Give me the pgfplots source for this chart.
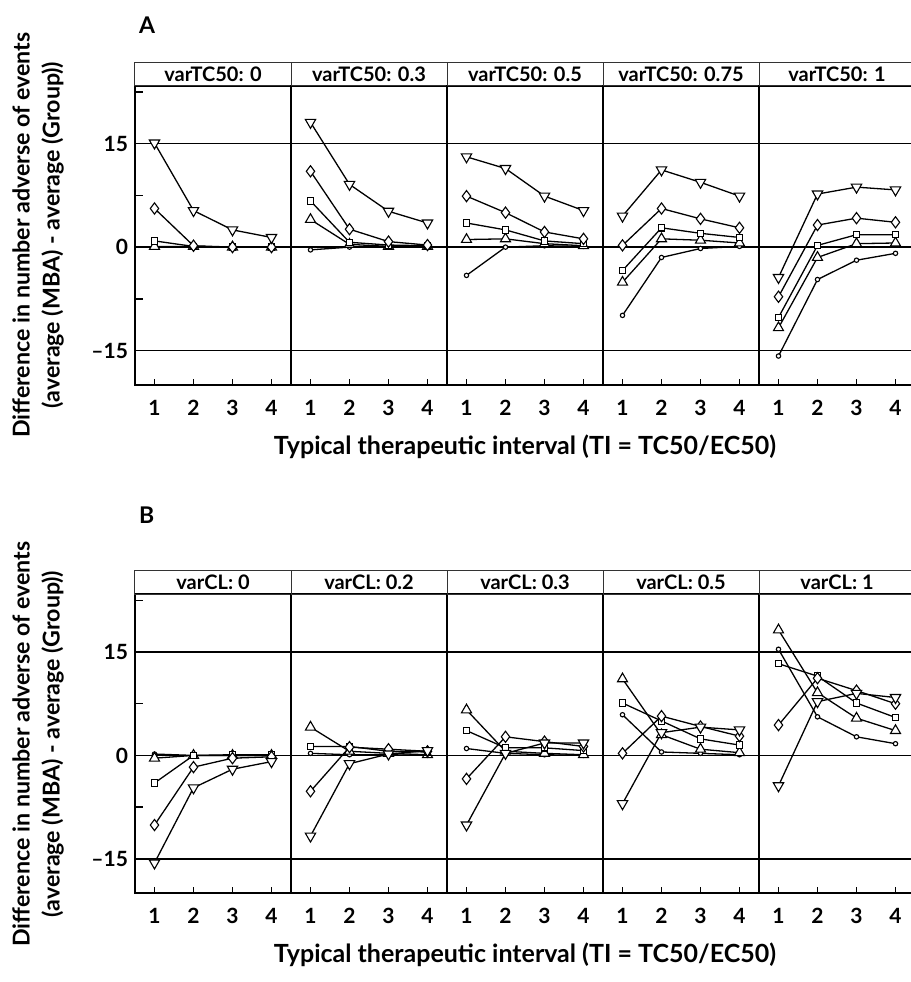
\documentclass[border=0pt]{standalone}
\usepackage{fontspec}
\setmainfont{Lato}
\usepackage{pgfplots}
\pgfplotsset{compat=1.18}
\usepackage{pgfplotstable}

% columns: c = circle, t = triangle, s = square, d = diamond, v = inverted triangle
\pgfplotstableread{
x c t s d v
1 0.0 0.1 0.9 5.6 15.1
2 0.0 0.1 0.1 0.2 5.3
3 0.0 0.0 0.0 0.0 2.5
4 0.0 0.0 0.0 0.0 1.4
}\tAa
\pgfplotstableread{
x c t s d v
1 -0.4 4.0 6.7 11.0 18.1
2 0.0 0.4 0.7 2.6 9.1
3 0.1 0.1 0.3 0.8 5.2
4 0.1 0.1 0.2 0.3 3.5
}\tAb
\pgfplotstableread{
x c t s d v
1 -4.1 1.1 3.5 7.4 13.1
2 0.0 1.2 2.5 5.0 11.4
3 0.2 0.5 0.9 2.2 7.4
4 0.1 0.2 0.5 1.2 5.3
}\tAc
\pgfplotstableread{
x c t s d v
1 -9.9 -5.1 -3.4 0.25 4.5
2 -1.5 1.2 2.8 5.6 11.2
3 -0.2 1.0 2.0 4.1 9.4
4 0.1 0.6 1.4 2.8 7.4
}\tAd
\pgfplotstableread{
x c t s d v
1 -15.8 -11.7 -10.2 -7.2 -4.4
2 -4.7 -1.5 0.25 3.2 7.7
3 -1.9 0.5 1.8 4.2 8.7
4 -0.9 0.6 1.8 3.6 8.3
}\tAe
\pgfplotstableread{
x c t s d v
1 0.2 -0.4 -4.0 -10.1 -15.6
2 0.0 0.0 0.0 -1.7 -4.7
3 0.0 0.0 0.1 -0.4 -2.0
4 0.0 0.0 0.1 -0.2 -0.9
}\tBa
\pgfplotstableread{
x c t s d v
1 0.3 4.1 1.3 -5.2 -11.7
2 0.1 0.6 1.3 1.2 -1.2
3 0.1 0.3 0.6 0.9 0.2
4 0.0 0.1 0.5 0.6 0.7
}\tBb
\pgfplotstableread{
x c t s d v
1 1.0 6.6 3.6 -3.4 -10.1
2 0.3 0.6 1.1 2.7 0.3
3 0.1 0.3 1.1 2.0 1.8
4 0.0 0.1 0.7 1.3 1.8
}\tBc
\pgfplotstableread{
x c t s d v
1 5.9 11.1 7.6 0.3 -7.0
2 0.5 3.0 5.0 5.7 3.3
3 0.3 0.9 2.4 4.2 4.1
4 0.1 0.4 1.5 2.8 3.7
}\tBd
\pgfplotstableread{
x c t s d v
1 15.4 18.2 13.3 4.4 -4.4
2 5.6 9.1 11.5 11.2 7.8
3 2.7 5.4 7.6 9.4 9.0
4 1.7 3.6 5.5 7.5 8.4
}\tBe

\pgfplotsset{
  facet/.style={
    scale only axis, width=78pt, height=149.6pt,
    anchor=south west,
    xmin=0.5, xmax=4.5, ymin=-20, ymax=23.4,
    xtick={1,2,3,4}, ytick={-15,0,15}, yticklabels={},
    xtick pos=bottom, ytick pos=left, tick align=inside,
    major tick length=3pt,
    tick style={black, line width=0.7pt},
    ymajorgrids, grid style={black, line width=0.7pt},
    axis line style={black, line width=1pt},
    /pgf/number format/assume math mode=true,
    tick label style={font=\bfseries\fontsize{10.5}{12}\selectfont},
    xticklabel style={yshift=-4pt},
    % strip above each facet
    extra description/.code={
      \draw[black!80, line width=0.5pt] (0,1) rectangle ([yshift=11.7pt]1,1);
      \node[font=\bfseries\fontsize{10}{11}\selectfont]
        at ([yshift=5.85pt]0.5,1) {\striptitle};
    },
  },
  strip/.code={\def\striptitle{#1}},
  first/.style={
    yticklabels={–15,0,15},
    extra y ticks={-7.5,7.5,22.5}, extra y tick labels={},
    extra y tick style={grid=none, major tick length=4pt},
  },
  pl/.style={black, line width=0.65pt, mark size=#1,
    mark options={solid, fill=white, draw=black, line width=0.55pt}},
}
\newcommand\series[1]{%
  \addplot[pl=1.1pt, mark=*] table[x=x, y=c]{#1};
  \addplot[pl=2.9pt, mark=triangle*] table[x=x, y=t]{#1};
  \addplot[pl=1.6pt, mark=square*] table[x=x, y=s]{#1};
  \addplot[pl=2.8pt, mark=diamond*] table[x=x, y=d]{#1};
  \addplot[black, line width=0.65pt, mark=triangle*, mark size=3pt,
    mark options={solid, fill=white, draw=black, line width=0.55pt, rotate=180}]
    table[x=x, y=v]{#1};
}

\begin{document}
\begin{tikzpicture}
\useasboundingbox (0,0) rectangle (455.5pt,491pt);
\clip (0,0) rectangle (455.5pt,491pt);

% panel A
\begin{axis}[facet, first, at={(67.5pt,298.5pt)}, strip={varTC50: 0}]
  \series{\tAa}
\end{axis}
\begin{axis}[facet, at={(145.5pt,298.5pt)}, strip={varTC50: 0.3}]
  \series{\tAb}
\end{axis}
\begin{axis}[facet, at={(223.5pt,298.5pt)}, strip={varTC50: 0.5}]
  \series{\tAc}
\end{axis}
\begin{axis}[facet, at={(301.5pt,298.5pt)}, strip={varTC50: 0.75}]
  \series{\tAd}
\end{axis}
\begin{axis}[facet, at={(379.5pt,298.5pt)}, strip={varTC50: 1}]
  \series{\tAe}
\end{axis}

% panel B
\begin{axis}[facet, first, at={(67.5pt,44.35pt)}, strip={varCL: 0}]
  \series{\tBa}
\end{axis}
\begin{axis}[facet, at={(145.5pt,44.35pt)}, strip={varCL: 0.2}]
  \series{\tBb}
\end{axis}
\begin{axis}[facet, at={(223.5pt,44.35pt)}, strip={varCL: 0.3}]
  \series{\tBc}
\end{axis}
\begin{axis}[facet, at={(301.5pt,44.35pt)}, strip={varCL: 0.5}]
  \series{\tBd}
\end{axis}
\begin{axis}[facet, at={(379.5pt,44.35pt)}, strip={varCL: 1}]
  \series{\tBe}
\end{axis}

\node[anchor=west, font=\bfseries\fontsize{11.5}{13}\selectfont] at (66pt,478.5pt) {A};
\node[anchor=west, font=\bfseries\fontsize{11.5}{13}\selectfont] at (66pt,233.5pt) {B};
\node[font=\bfseries\fontsize{12.5}{14}\selectfont] at (262.5pt,267.5pt)
  {Typical therapeutic interval (TI = TC50/EC50)};
\node[font=\bfseries\fontsize{12.5}{14}\selectfont] at (262.5pt,13.5pt)
  {Typical therapeutic interval (TI = TC50/EC50)};
\node[rotate=90, align=center, font=\bfseries\fontsize{11.6}{15}\selectfont]
  at (19pt,373.5pt) {Difference in number adverse of events\\(average (MBA) - average (Group))};
\node[rotate=90, align=center, font=\bfseries\fontsize{11.6}{15}\selectfont]
  at (19pt,119pt) {Difference in number adverse of events\\(average (MBA) - average (Group))};
\end{tikzpicture}
\end{document}
